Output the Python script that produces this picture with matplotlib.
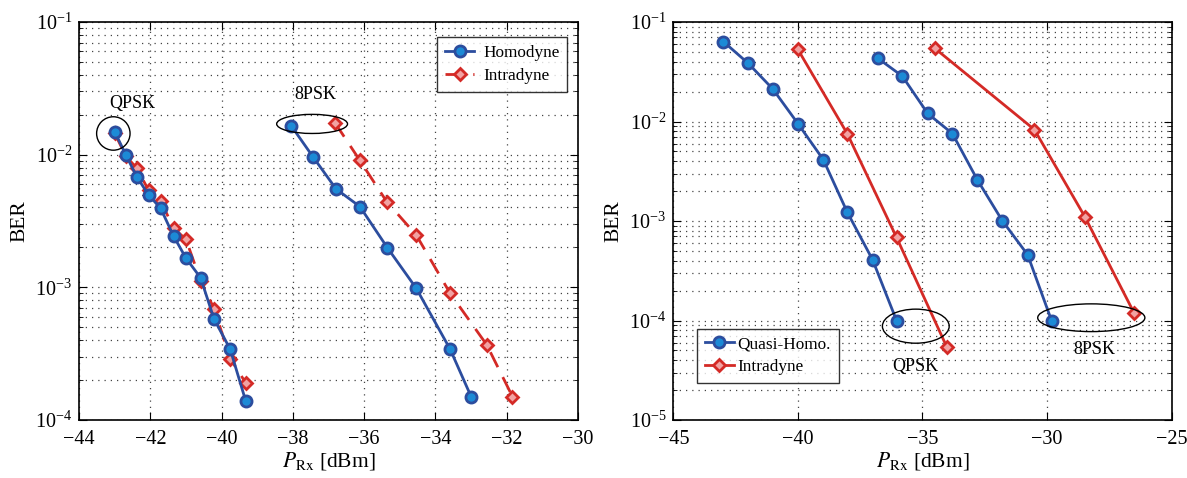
import matplotlib
matplotlib.use("Agg")
import matplotlib.pyplot as plt
from matplotlib.patches import Ellipse
from matplotlib.ticker import LogLocator, NullFormatter, FixedLocator

plt.rcParams['font.family'] = ['Liberation Serif', 'DejaVu Serif']
plt.rcParams['mathtext.fontset'] = 'stix'

# ---- Left panel data ----
qpsk_x = [-43.0, -42.69, -42.38, -42.05, -41.71, -41.35, -41.0, -40.59, -40.21, -39.76, -39.32]
qpsk_homo = [0.0149, 0.0100, 0.00682, 0.00497, 0.00394, 0.00244, 0.00166, 0.00118, 0.000575, 0.000342, 0.000138]
qpsk_intra = [0.0145, 0.0098, 0.0079, 0.0054, 0.0045, 0.0028, 0.0023, 0.00112, 0.00069, 0.00029, 0.00019]

psk8_homo_x = [-38.05, -37.44, -36.79, -36.12, -35.35, -34.54, -33.59, -33.0]
psk8_homo = [0.01655, 0.00966, 0.00552, 0.00406, 0.00199, 0.000984, 0.000342, 0.00015]
psk8_intra_x = [-36.82, -36.13, -35.37, -34.54, -33.59, -32.56, -31.84]
psk8_intra = [0.0174, 0.00912, 0.00443, 0.00248, 0.000902, 0.000368, 0.00015]

# ---- Right panel data ----
r_qpsk_homo_x = [-42.99, -41.99, -41.01, -40.0, -38.98, -38.02, -37.0, -36.04]
r_qpsk_homo = [0.0636, 0.0384, 0.0213, 0.00955, 0.00414, 0.00123, 0.000407, 0.0000998]
r_qpsk_intra_x = [-40.0, -38.02, -36.04, -34.03]
r_qpsk_intra = [0.0531, 0.00757, 0.000684, 0.0000546]

r_8psk_homo_x = [-36.80, -35.81, -34.79, -33.80, -32.80, -31.80, -30.78, -29.82]
r_8psk_homo = [0.0434, 0.0286, 0.01205, 0.00757, 0.0026, 0.00101, 0.000458, 0.0000998]
r_8psk_intra_x = [-34.50, -30.51, -28.49, -26.50]
r_8psk_intra = [0.0543, 0.0083, 0.00111, 0.000118]

left_xticks = [-44, -42, -40, -38, -36, -34, -32, -30]
right_xticks = [-45, -40, -35, -30, -25]

BLUE = '#2c4d9e'
BLUE_FILL = '#1c8ad6'
RED = '#d42a26'
RED_FILL = '#f2a2a2'

blue_style = dict(color=BLUE, lw=2.0, marker='o', ms=8.0, mfc=BLUE_FILL, mec=BLUE, mew=2.0)
red_style = dict(color=RED, lw=2.0, marker='D', ms=6.3, mfc=RED_FILL, mec=RED, mew=2.0)

fig = plt.figure(figsize=(11.87, 4.78), dpi=100)
axL = fig.add_axes([0.0666, 0.1213, 0.4204, 0.8326])
axR = fig.add_axes([0.5672, 0.1213, 0.4199, 0.8326])


def style_axis(ax, xlim, ylim, xticks):
    ax.set_yscale('log')
    ax.set_xlim(*xlim)
    ax.set_ylim(*ylim)
    ax.xaxis.set_major_locator(FixedLocator(xticks))
    ax.set_xticklabels(['\u2212%d' % abs(t) for t in xticks])
    ax.yaxis.set_major_locator(LogLocator(base=10, numticks=10))
    ax.yaxis.set_minor_locator(LogLocator(base=10, subs=range(2, 10), numticks=20))
    ax.yaxis.set_minor_formatter(NullFormatter())
    ax.grid(True, which='major', axis='both', ls=(0, (1, 4)), color='#444444', lw=0.9)
    ax.grid(True, which='minor', axis='y', ls=(0, (1, 4)), color='#444444', lw=0.9)
    ax.tick_params(which='both', direction='in', top=True, right=True, labelsize=14.5)
    ax.tick_params(axis='x', which='major', pad=7)
    ax.tick_params(axis='y', which='major', pad=5)
    ax.tick_params(which='major', length=6)
    ax.tick_params(which='minor', length=3)
    for s in ax.spines.values():
        s.set_linewidth(1.2)
    ax.set_xlabel(r'$P_{\rm Rx}$ [dBm]', fontsize=15.5, labelpad=1)
    ax.set_ylabel('BER', fontsize=15.5, labelpad=4)


leg_kw = dict(fontsize=12.4, frameon=True, fancybox=False, edgecolor='black',
              handlelength=1.7, borderpad=0.45, labelspacing=0.4, handletextpad=0.5,
              borderaxespad=0.0)

# Left
style_axis(axL, (-44, -30), (1e-4, 1e-1), left_xticks)
hl, = axL.plot(qpsk_x, qpsk_homo, **blue_style, zorder=4)
rl, = axL.plot(qpsk_x, qpsk_intra, ls='--', **red_style, zorder=3)
axL.plot(psk8_homo_x, psk8_homo, **blue_style, zorder=4)
rl2, = axL.plot(psk8_intra_x, psk8_intra, ls='--', **red_style, zorder=3)
rl.set_dashes([6, 4])
rl2.set_dashes([6, 4])
legL = axL.legend([hl, rl2], ['Homodyne', 'Intradyne'], loc='upper right',
                  bbox_to_anchor=(0.978, 0.962), **leg_kw)
legL.get_frame().set_linewidth(1.0)
axL.add_patch(Ellipse((0.0687, 0.720), 0.067, 0.084, transform=axL.transAxes,
                      fill=False, ec='black', lw=1.0, zorder=5))
axL.add_patch(Ellipse((0.467, 0.744), 0.142, 0.048, transform=axL.transAxes,
                      fill=False, ec='black', lw=1.0, zorder=5))
axL.text(0.106, 0.796, 'QPSK', transform=axL.transAxes, ha='center', va='center', fontsize=13)
axL.text(0.473, 0.818, '8PSK', transform=axL.transAxes, ha='center', va='center', fontsize=13)

# Right
style_axis(axR, (-45, -25), (1e-5, 1e-1), right_xticks)
hr, = axR.plot(r_qpsk_homo_x, r_qpsk_homo, **blue_style, zorder=4)
rr, = axR.plot(r_qpsk_intra_x, r_qpsk_intra, **red_style, zorder=3)
axR.plot(r_8psk_homo_x, r_8psk_homo, **blue_style, zorder=4)
axR.plot(r_8psk_intra_x, r_8psk_intra, **red_style, zorder=3)
legR = axR.legend([hr, rr], ['Quasi-Homo.', 'Intradyne'], loc='lower left',
                  bbox_to_anchor=(0.0476, 0.093), **dict(leg_kw, handletextpad=0.2))
legR.get_frame().set_linewidth(1.0)
axR.add_patch(Ellipse((0.4866, 0.2358), 0.134, 0.0856, transform=axR.transAxes,
                      fill=False, ec='black', lw=1.0, zorder=5))
axR.add_patch(Ellipse((0.8387, 0.257), 0.215, 0.0697, transform=axR.transAxes,
                      fill=False, ec='black', lw=1.0, zorder=5))
axR.text(0.485, 0.134, 'QPSK', transform=axR.transAxes, ha='center', va='center', fontsize=13)
axR.text(0.844, 0.176, '8PSK', transform=axR.transAxes, ha='center', va='center', fontsize=13)

fig.savefig('out.png', dpi=100)
